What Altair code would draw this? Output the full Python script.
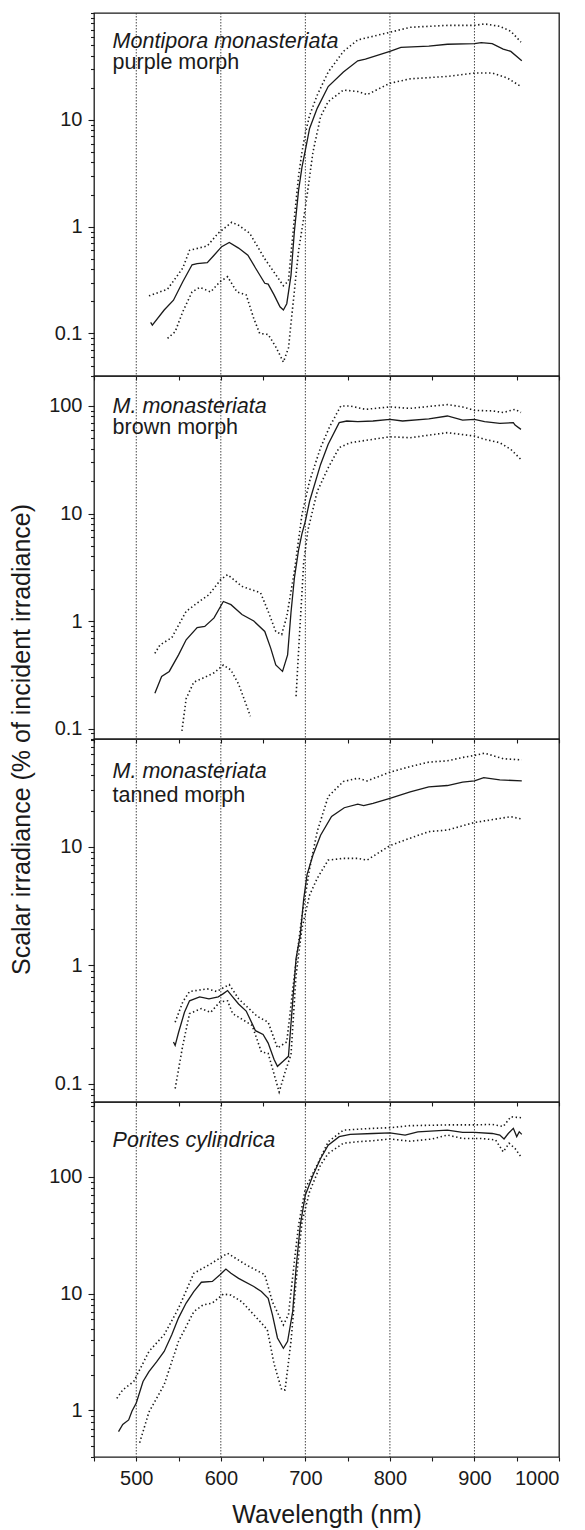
import json
import altair as alt
import pandas as pd

FONT = "Liberation Sans"
INK = "#1a1a1a"

# ---------------- data ----------------
X_DOMAIN = [450, 1000]
GRID_WL = [500, 600, 700, 800, 900]
X_TICKS = [450, 500, 550, 600, 650, 700, 750, 800, 850, 900, 950, 1000]
X_LABELED = [500, 600, 700, 800, 900, 1000]

# Panel 1: Montipora monasteriata, purple morph
P1_MEAN_WL = [517, 519, 533, 544, 555, 566, 572, 584, 592, 601, 610, 621, 632, 641, 652, 656, 663, 670, 674,
              678, 683, 687, 692, 696, 700, 705, 714, 727, 745, 762, 771, 800, 813, 846, 868, 900, 908, 921,
              934, 943, 956]
P1_MEAN = [0.127, 0.12, 0.166, 0.205, 0.305, 0.44, 0.45, 0.46, 0.54, 0.65, 0.71, 0.63, 0.54, 0.41, 0.295, 0.29,
           0.23, 0.178, 0.166, 0.19, 0.35, 0.9, 2.2, 3.6, 5.2, 8.3, 12.8, 20.5, 28, 35.7, 37, 43.7, 47.7, 49,
           51, 51.7, 52.7, 51.7, 46, 43.7, 35.7]
P1_UP_WL = [515, 537, 555, 563, 584, 597, 613, 621, 634, 652, 665, 674, 680, 687, 692, 696, 700, 705, 714, 727,
            745, 762, 800, 824, 868, 900, 912, 930, 943, 955]
P1_UP = [0.225, 0.26, 0.41, 0.6, 0.66, 0.87, 1.1, 1.03, 0.87, 0.5, 0.355, 0.28, 0.31, 1.2, 3.0, 5.0, 7.5, 11,
         17, 28, 43.7, 56, 66, 73.5, 76.6, 76.6, 79, 75, 67.5, 53.4]
P1_LO_WL = [537, 546, 555, 566, 575, 588, 599, 608, 619, 630, 639, 646, 656, 665, 674, 680, 687, 692, 700, 709,
            718, 727, 745, 762, 773, 800, 824, 868, 900, 921, 939, 955]
P1_LO = [0.09, 0.104, 0.16, 0.245, 0.27, 0.245, 0.305, 0.34, 0.245, 0.23, 0.138, 0.1, 0.098, 0.075, 0.054,
         0.073, 0.25, 0.6, 1.5, 5.0, 10.7, 14.8, 19, 18.4, 17.2, 22, 24.2, 25.5, 27.4, 27.4, 24.6, 20.5]

# Panel 2: M. monasteriata, brown morph
P2_MEAN_WL = [522, 530, 539, 550, 559, 572, 581, 592, 603, 612, 625, 639, 652, 659, 665, 673, 679, 683, 687,
              692, 696, 700, 705, 718, 727, 740, 749, 762, 780, 800, 815, 846, 868, 886, 900, 912, 930, 946,
              948, 955]
P2_MEAN = [0.213, 0.305, 0.34, 0.485, 0.67, 0.87, 0.89, 1.07, 1.52, 1.42, 1.15, 1.0, 0.8, 0.56, 0.39, 0.34,
           0.485, 1.2, 2.5, 4.6, 6.5, 8.5, 13, 28.6, 44, 70, 72.5, 71.5, 72.5, 75, 72.5, 76, 80.7, 74, 75,
           71.5, 69, 70, 66.5, 60.6]
P2_UP_WL = [522, 528, 542, 559, 572, 586, 600, 608, 625, 647, 656, 665, 672, 678, 687, 696, 705, 718, 729, 742,
            753, 771, 800, 824, 868, 886, 900, 921, 934, 948, 955]
P2_UP = [0.5, 0.6, 0.7, 1.23, 1.47, 1.76, 2.43, 2.7, 2.1, 1.83, 1.23, 0.8, 0.75, 1.1, 2.9, 9.8, 20, 41, 65,
         100, 100, 93, 98, 95, 103, 98, 91, 90, 87, 93, 87]
P2_LO_A_WL = [554, 559, 568, 581, 592, 603, 612, 621, 630, 635]
P2_LO_A = [0.095, 0.19, 0.27, 0.3, 0.33, 0.39, 0.35, 0.26, 0.167, 0.13]
P2_LO_B_WL = [689, 694, 698, 703, 714, 727, 740, 753, 780, 800, 824, 868, 900, 912, 930, 943, 955]
P2_LO_B = [0.2, 1.0, 3.5, 7.0, 16, 26.6, 41, 45.5, 49, 51.7, 50.7, 56.5, 52.5, 49, 45.5, 39.5, 31.8]

# Panel 3: M. monasteriata, tanned morph
P3_MEAN_WL = [544, 546, 550, 557, 563, 575, 586, 597, 603, 608, 614, 621, 630, 641, 650, 656, 663, 667, 674,
              680, 685, 689, 694, 698, 702, 709, 718, 731, 746, 762, 769, 780, 800, 824, 846, 868, 886, 900,
              911, 930, 956]
P3_MEAN = [0.225, 0.21, 0.27, 0.40, 0.5, 0.54, 0.52, 0.54, 0.575, 0.61, 0.54, 0.47, 0.41, 0.28, 0.26, 0.22,
           0.16, 0.14, 0.155, 0.17, 0.49, 1.14, 1.8, 3.6, 5.8, 8.5, 12.5, 18, 21.3, 22.8, 22.2, 23.2, 25.6,
           29, 32, 32.8, 35, 35.9, 38.3, 36.6, 35.9]
P3_UP_WL = [546, 555, 563, 584, 595, 610, 621, 643, 656, 667, 678, 687, 696, 705, 714, 727, 745, 762, 773, 800,
            824, 846, 868, 886, 900, 912, 934, 956]
P3_UP = [0.33, 0.49, 0.6, 0.63, 0.6, 0.685, 0.52, 0.37, 0.33, 0.2, 0.225, 0.82, 2.6, 6.5, 13.4, 26.5, 35.5,
         37.8, 35.9, 42.5, 47.4, 51.7, 53, 56.6, 58.8, 61.5, 55.2, 54]
P3_LO_WL = [546, 555, 563, 577, 588, 599, 608, 614, 625, 637, 648, 656, 669, 676, 683, 689, 696, 705, 714, 727,
            745, 762, 773, 800, 824, 846, 868, 900, 912, 943, 956]
P3_LO = [0.091, 0.21, 0.39, 0.43, 0.4, 0.49, 0.5, 0.39, 0.35, 0.31, 0.185, 0.18, 0.085, 0.125, 0.176, 0.82,
         2.05, 3.9, 5.4, 7.7, 7.96, 7.96, 7.7, 10.2, 11.8, 13.4, 13.8, 16, 16.5, 17.9, 17.1]

# Panel 4: Porites cylindrica
P4_MEAN_WL = [479, 484, 491, 495, 500, 508, 515, 524, 533, 542, 550, 559, 568, 577, 590, 599, 606, 612, 621,
              639, 648, 656, 661, 667, 674, 679, 685, 689, 694, 700, 709, 718, 727, 740, 753, 780, 800, 818,
              833, 868, 886, 900, 921, 930, 935, 940, 946, 950, 953, 956]
P4_MEAN = [0.66, 0.76, 0.83, 0.99, 1.16, 1.77, 2.15, 2.6, 3.2, 4.45, 6.2, 8.3, 10.4, 12.5, 12.7, 14.5, 16.2,
           14.9, 13.5, 11.5, 10.4, 9.1, 6.6, 4.17, 3.4, 3.9, 7.0, 16.5, 38.6, 69.7, 103, 143, 186, 220, 230,
           234, 237, 227, 242, 250, 239, 239, 234, 227, 210, 234, 259, 220, 242, 230]
P4_UP_WL = [477, 484, 497, 515, 533, 550, 568, 586, 608, 630, 652, 661, 674, 680, 687, 692, 700, 714, 727, 745,
            780, 800, 824, 868, 900, 921, 934, 943, 956]
P4_UP = [1.27, 1.5, 1.77, 3.2, 4.45, 7.5, 14.9, 17.6, 22.1, 17.6, 14.5, 8.5, 5.4, 6.6, 18.8, 38.6, 79.6, 126,
         199, 250, 259, 262, 273, 277, 277, 280, 268, 325, 319]
P4_LO_WL = [504, 515, 533, 550, 568, 579, 590, 603, 612, 625, 648, 655, 663, 672, 676, 683, 689, 696, 705, 718,
            727, 745, 762, 780, 800, 824, 850, 868, 886, 908, 925, 934, 941, 948, 955]
P4_LO = [0.53, 0.97, 1.66, 3.9, 7.0, 8.0, 8.3, 9.9, 9.7, 8.5, 5.6, 4.9, 2.5, 1.5, 1.5, 3.9, 12.7, 41, 74.4,
         126, 158, 193, 199, 203, 210, 201, 210, 227, 212, 212, 206, 163, 193, 174, 148]

# y domains and labelled decades per panel
Y_DOMAINS = [[0.04, 100], [0.08, 190], [0.07, 81], [0.4, 435]]
Y_LABELED = [[0.1, 1, 10], [0.1, 1, 10, 100], [0.1, 1, 10], [1, 10, 100]]
HEIGHTS = [363, 363, 363, 355]
WIDTH = 465

# annotations: (text, italic, wavelength, value)
ANNOTS = [
    [("Montipora monasteriata", True, 472, 46.6), ("purple morph", False, 472, 29.6)],
    [("M. monasteriata", True, 472, 86.6), ("brown morph", False, 472, 54.8)],
    [("M. monasteriata", True, 472, 37.8), ("tanned morph", False, 472, 24.0)],
    [("Porites cylindrica", True, 472, 180)],
]

SERIES = [
    [("mean", P1_MEAN_WL, P1_MEAN), ("up", P1_UP_WL, P1_UP), ("lo", P1_LO_WL, P1_LO)],
    [("mean", P2_MEAN_WL, P2_MEAN), ("up", P2_UP_WL, P2_UP), ("loa", P2_LO_A_WL, P2_LO_A),
     ("lob", P2_LO_B_WL, P2_LO_B)],
    [("mean", P3_MEAN_WL, P3_MEAN), ("up", P3_UP_WL, P3_UP), ("lo", P3_LO_WL, P3_LO)],
    [("mean", P4_MEAN_WL, P4_MEAN), ("up", P4_UP_WL, P4_UP), ("lo", P4_LO_WL, P4_LO)],
]


def log_ticks(domain):
    vals = []
    for e in range(-3, 4):
        for m in range(1, 10):
            v = round(m * 10.0 ** e, 6)
            if domain[0] - 1e-9 <= v <= domain[1] + 1e-9:
                vals.append(v)
    return vals


def panel(i):
    series = SERIES[i]
    domain = Y_DOMAINS[i]
    labeled = Y_LABELED[i]
    bottom = i == 3
    test = "indexof(%s, datum.value) >= 0" % json.dumps(labeled)
    xtest = "indexof(%s, datum.value) >= 0" % json.dumps(X_LABELED)

    x_axis = alt.Axis(
        values=X_TICKS,
        labels=bottom,
        labelExpr="%s ? datum.value : ''" % xtest,
        labelFontSize={"condition": {"test": xtest, "value": 20}, "value": 1},
        tickSize=4,
        labelPadding=7,
        title="Wavelength (nm)" if bottom else None,
        titlePadding=14,
    )
    y_kwargs = dict(
        values=log_ticks(domain),
        labelExpr="%s ? format(datum.value, '~g') : ''" % test,
        labelFontSize={"condition": {"test": test, "value": 20}, "value": 1},
        tickSize={"condition": {"test": test, "value": 6}, "value": 3.5},
        labelPadding=6,
        labelOverlap=False,
        labelFlush=False,
    )
    if i == 1:
        y_kwargs.update(title="Scalar irradiance (% of incident irradiance)", titleX=-73,
                        titleY=HEIGHTS[1], titleAngle=-90, titleAlign="center", titleBaseline="middle")
    else:
        y_kwargs.update(title=None)
    y_axis = alt.Axis(**y_kwargs)

    x_enc = alt.X("wl:Q", scale=alt.Scale(domain=X_DOMAIN, nice=False, zero=False), axis=x_axis)
    y_enc = alt.Y("val:Q", scale=alt.Scale(type="log", domain=domain, nice=False), axis=y_axis)

    grid = alt.Chart(pd.DataFrame({"wl": GRID_WL})).mark_rule(
        color="#333", strokeWidth=0.9, strokeDash=[1.5, 1.5]
    ).encode(x=x_enc)

    frames = []
    for name, wl, vals in series:
        frames.append(pd.DataFrame({"wl": wl, "val": vals, "seg": name}))
    df = pd.concat(frames, ignore_index=True)

    mean = alt.Chart(df[df.seg == "mean"]).mark_line(
        color=INK, strokeWidth=1.3, clip=True
    ).encode(x=x_enc, y=y_enc)
    bounds = alt.Chart(df[df.seg != "mean"]).mark_line(
        color=INK, strokeWidth=1.6, strokeDash=[1.4, 2.6], clip=True
    ).encode(x=x_enc, y=y_enc, detail="seg:N")

    ann = pd.DataFrame(ANNOTS[i], columns=["label", "italic", "wl", "val"])
    txt_it = alt.Chart(ann[ann.italic]).mark_text(
        align="left", baseline="alphabetic", font=FONT, fontSize=21.5, fontStyle="italic", color=INK
    ).encode(x=x_enc, y=y_enc, text="label:N")
    layers = [grid, mean, bounds, txt_it]
    if (~ann.italic).any():
        txt_n = alt.Chart(ann[~ann.italic]).mark_text(
            align="left", baseline="alphabetic", font=FONT, fontSize=21.5, color=INK
        ).encode(x=x_enc, y=y_enc, text="label:N")
        layers.append(txt_n)

    return alt.layer(*layers).properties(width=WIDTH, height=HEIGHTS[i])


chart = alt.vconcat(
    *[panel(i) for i in range(4)], spacing=0, bounds="flush"
).properties(
    padding={"left": 0, "top": 3, "right": 0, "bottom": 0}
).configure_view(
    stroke=INK, strokeWidth=1.3
).configure_axis(
    domain=False, grid=False, tickColor=INK, tickWidth=1.1,
    labelFont=FONT, labelFontSize=20, labelColor=INK,
    titleFont=FONT, titleFontSize=25, titleFontWeight="normal", titleColor=INK,
)

chart.save("out.html", embed_options={"renderer": "svg", "actions": False})
